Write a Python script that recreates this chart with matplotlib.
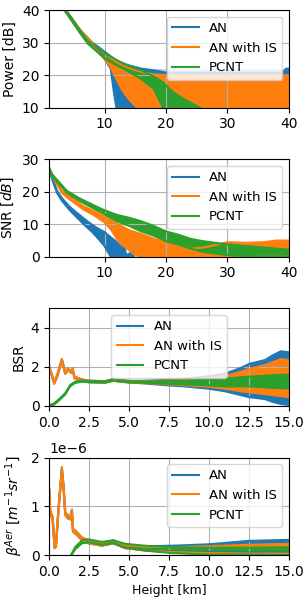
import numpy as np
import matplotlib
matplotlib.use("Agg")
import matplotlib.pyplot as plt

labels = ["AN", "AN with IS", "PCNT"]
colors = ["tab:blue", "tab:orange", "tab:green"]
height_ticks = [0, 2.5, 5, 7.5, 10, 12.5, 15]

# --- Power [dB] vs range (lower / upper edge of the noisy trace)
pow_x_an = [1, 3.6, 6, 8, 9, 10, 11, 11.5, 12, 13, 14, 16, 18, 20, 25, 30, 35, 39, 39.5, 40]
pow_lo_an = [52, 39.7, 33.3, 29, 27.5, 25, 22, 15, 9, 5, 5, 5, 5, 5, 5, 5, 5, 5, 5, 5]
pow_hi_an = [52, 40.3, 34, 30, 28.7, 27.2, 25.8, 25, 24.5, 23.6, 23, 22, 21.5, 20.8, 20.8, 20.8, 20.8, 20.8, 22, 22]
pow_x_an_spk = [18, 20, 25, 30, 35, 39]
pow_hi_an_spk = [22, 22, 22, 22, 22, 22]

pow_x_is = [1, 3.6, 6, 8, 9, 10, 11, 12, 13, 14, 15, 16, 17, 18, 20, 25, 30, 35, 40]
pow_lo_is = [52, 39.7, 33.2, 28.8, 27, 25, 22.5, 18.5, 15, 12.5, 10.5, 9, 5, 5, 5, 5, 5, 5, 5]
pow_hi_is = [52, 40.3, 34, 29.8, 28.2, 26.6, 25.2, 24, 23, 22.2, 21.5, 21, 20.6, 20.3, 20, 20, 20, 20, 20]

pow_x_pc = [1, 3.6, 6, 7.3, 8, 10, 12, 14, 16, 18, 19.5, 21, 23, 25.5, 27]
pow_lo_pc = [52, 39.7, 33, 29.6, 28.5, 25.2, 23, 21, 18.8, 15.8, 10, 5, 5, 5, 5]
pow_hi_pc = [52, 40.3, 33.8, 30.4, 29.5, 26.8, 24.6, 22.8, 21.5, 19.6, 17.8, 15, 12.5, 10, 8]

# --- SNR [dB] vs range
snr_x_an = [1, 1.5, 2.25, 3, 4.25, 5.5, 7, 8, 9, 10, 11, 12, 12.5, 13.3, 13.5, 14.6, 14.7]
snr_lo_an = [26.7, 23.7, 19.7, 17.4, 14.5, 12.1, 9.3, 7.6, 5.5, 3.3, 0, 0, 0, 0, 0, 0, 0]
snr_hi_an = [27.3, 24.3, 20.3, 18.2, 15.5, 13.5, 11.2, 9.8, 8.6, 7.6, 6, 4.5, 3.5, 2.5, 0.5, 1.5, 0]

snr_x_is = [1, 1.5, 3.05, 4, 6.6, 8, 10, 11, 12, 13, 14, 15, 16, 18, 20, 22, 24, 26, 28, 30, 33, 36, 38, 40]
snr_lo_is = [26.7, 24.7, 19.7, 18.1, 14.5, 13.1, 10.6, 8.5, 5.5, 3.5, 2, 0.5, 0, 0, 0, 0, 0, 0, 0, 0, 0, 0, 0, 0]
snr_hi_is = [27.3, 25.3, 20.3, 18.9, 15.5, 14.3, 12.4, 11.3, 10.2, 9.2, 8.2, 7.6, 7, 5.6, 4.5, 3.5, 2.5, 2.8, 3.6, 4.5, 4.3, 4.5, 5, 5]

snr_x_pc = [1, 1.5, 3.85, 6, 8.5, 10, 12, 14, 16, 18, 20, 22, 24, 26, 28, 30, 35, 40]
snr_lo_pc = [26.7, 24.7, 19.7, 17.1, 14.6, 13.1, 10.9, 9.5, 7.8, 6.5, 4.8, 3.8, 2.5, 1.5, 1, 0.5, 0, 0]
snr_hi_pc = [27.3, 25.3, 20.3, 17.9, 15.6, 14.3, 12.9, 12, 10.9, 9.5, 7.8, 6.8, 5.5, 4.8, 4.3, 3.8, 3, 2.2]

# --- BSR vs height [km] (centre and noise spread)
bsr_x = [0, 0.15, 0.31, 0.5, 0.79, 1.0, 1.17, 1.37, 1.46, 1.58, 1.83, 2.14, 2.5, 3, 3.5,
         4, 4.5, 5, 6, 7, 7.5, 8.5, 10, 11, 12, 12.5, 13.5, 14, 14.5, 15]
bsr_an = [1.97, 1.6, 1.18, 1.55, 2.36, 1.68, 1.88, 1.73, 1.88, 1.46, 1.38, 1.3, 1.25, 1.24, 1.23,
          1.33, 1.28, 1.24, 1.22, 1.2, 1.2, 1.2, 1.2, 1.2, 1.25, 1.3, 1.35, 1.4, 1.45, 1.4]
bsr_sd_an = [0.04] * 18 + [0.07, 0.12, 0.15, 0.2, 0.32, 0.45, 0.7, 0.85, 1.0, 1.2, 1.35, 1.35]
bsr_sd_is = [0.04] * 18 + [0.05, 0.08, 0.1, 0.14, 0.22, 0.32, 0.5, 0.6, 0.75, 0.85, 0.95, 0.95]

bsr_x_pc = [0, 0.3, 0.58, 1.0, 1.31, 1.62, 2.04, 2.5, 3, 3.5, 4, 4.5, 5, 6, 7, 7.5, 8.5,
            10, 11, 12.5, 13.5, 14.5, 15]
bsr_pc = [0, 0.1, 0.29, 0.62, 1.04, 1.21, 1.27, 1.25, 1.24, 1.23, 1.33, 1.28, 1.24, 1.22,
          1.2, 1.2, 1.2, 1.2, 1.2, 1.25, 1.25, 1.25, 1.25]
bsr_sd_pc = [0.03] * 13 + [0.04, 0.06, 0.07, 0.1, 0.15, 0.2, 0.25, 0.3, 0.35, 0.35]

# --- beta aer [1e-6 m^-1 sr^-1] vs height [km]
bet_x = [0, 0.06, 0.21, 0.33, 0.42, 0.58, 0.79, 0.9, 1.0, 1.17, 1.31, 1.42, 1.48, 1.73,
         2.04, 2.46, 3.29, 4.02, 4.75, 6.0, 7.67, 10, 12.5, 15]
bet_an = [1.31, 0.88, 0.75, 0.17, 0.2, 0.95, 1.77, 1.36, 0.85, 0.78, 0.76, 0.9, 0.51, 0.44,
          0.33, 0.27, 0.22, 0.27, 0.17, 0.14, 0.13, 0.14, 0.17, 0.18]
bet_is = [1.31, 0.88, 0.75, 0.17, 0.2, 0.95, 1.77, 1.36, 0.85, 0.78, 0.76, 0.9, 0.51, 0.44,
          0.33, 0.27, 0.22, 0.27, 0.17, 0.13, 0.11, 0.11, 0.12, 0.13]
bet_sd_an = [0.03] * 18 + [0.03, 0.04, 0.06, 0.08, 0.12, 0.13]
bet_sd_is = [0.03] * 18 + [0.03, 0.04, 0.05, 0.07, 0.09, 0.1]

bet_x_pc = [1.375, 1.62, 2.04, 2.46, 3.29, 4.02, 4.75, 6.0, 7.67, 10, 12.5, 15]
bet_pc = [0, 0.14, 0.27, 0.29, 0.24, 0.27, 0.19, 0.14, 0.1, 0.08, 0.08, 0.08]
bet_sd_pc = [0.01, 0.02, 0.03, 0.03, 0.03, 0.03, 0.04, 0.05, 0.06, 0.07, 0.07, 0.08]


def band(ax, x, lo, hi, color, label=None):
    ax.fill_between(x, lo, hi, color=color, lw=0)
    ax.plot(x, lo, color=color, lw=1.5)
    ax.plot(x, hi, color=color, lw=1.5, label=label)


def band_c(ax, x, c, sd, color, label=None, scale=1.0):
    c = np.array(c) * scale
    sd = np.array(sd) * scale
    band(ax, x, c - sd, c + sd, color, label)


fig, axs = plt.subplots(4, 1, figsize=(3.08, 6.0), dpi=100)
plt.subplots_adjust(left=0.16, right=0.938, top=0.983, bottom=0.075, hspace=0.53)

# Power
ax = axs[0]
band(ax, pow_x_an, pow_lo_an, pow_hi_an, colors[0], labels[0])
ax.fill_between(pow_x_an_spk, 20, pow_hi_an_spk, color=colors[0], alpha=0.3, lw=0)
band(ax, pow_x_is, pow_lo_is, pow_hi_is, colors[1], labels[1])
band(ax, pow_x_pc, pow_lo_pc, pow_hi_pc, colors[2], labels[2])
ax.set_xlim(1, 40)
ax.set_ylim(10, 40)
ax.set_yticks([10, 20, 30, 40])
ax.set_ylabel("Power [dB]")

# SNR
ax = axs[1]
band(ax, snr_x_an, snr_lo_an, snr_hi_an, colors[0], labels[0])
band(ax, snr_x_is, snr_lo_is, snr_hi_is, colors[1], labels[1])
band(ax, snr_x_pc, snr_lo_pc, snr_hi_pc, colors[2], labels[2])
ax.set_xlim(1, 40)
ax.set_ylim(0, 30)
ax.set_yticks([0, 10, 20, 30])
ax.set_ylabel("SNR [$dB$]")

# BSR
ax = axs[2]
band_c(ax, bsr_x, bsr_an, bsr_sd_an, colors[0], labels[0])
band_c(ax, bsr_x, bsr_an, bsr_sd_is, colors[1], labels[1])
band_c(ax, bsr_x_pc, bsr_pc, bsr_sd_pc, colors[2], labels[2])
ax.set_xlim(0, 15)
ax.set_ylim(0, 5)
ax.set_yticks([0, 2, 4])
ax.set_ylabel("BSR")

# beta aer
ax = axs[3]
band_c(ax, bet_x, bet_an, bet_sd_an, colors[0], labels[0], 1e-6)
band_c(ax, bet_x, bet_is, bet_sd_is, colors[1], labels[1], 1e-6)
band_c(ax, bet_x_pc, bet_pc, bet_sd_pc, colors[2], labels[2], 1e-6)
ax.set_xlim(0, 15)
ax.set_ylim(0, 2e-6)
ax.set_yticks([0, 1e-6, 2e-6])
ax.set_ylabel(r"$\beta^{Aer}$ $[m^{-1}sr^{-1}]$")
ax.set_xlabel("Height [km]", fontsize=9)

for i, ax in enumerate(axs):
    ax.grid(True)
    ax.legend(loc="upper center" if i == 2 else "upper right", fontsize=9.5)
    if i >= 2:
        ax.set_xticks(height_ticks)
        ax.set_xticklabels([f"{t:.1f}" for t in height_ticks])

fig.savefig("out.png", dpi=100)
